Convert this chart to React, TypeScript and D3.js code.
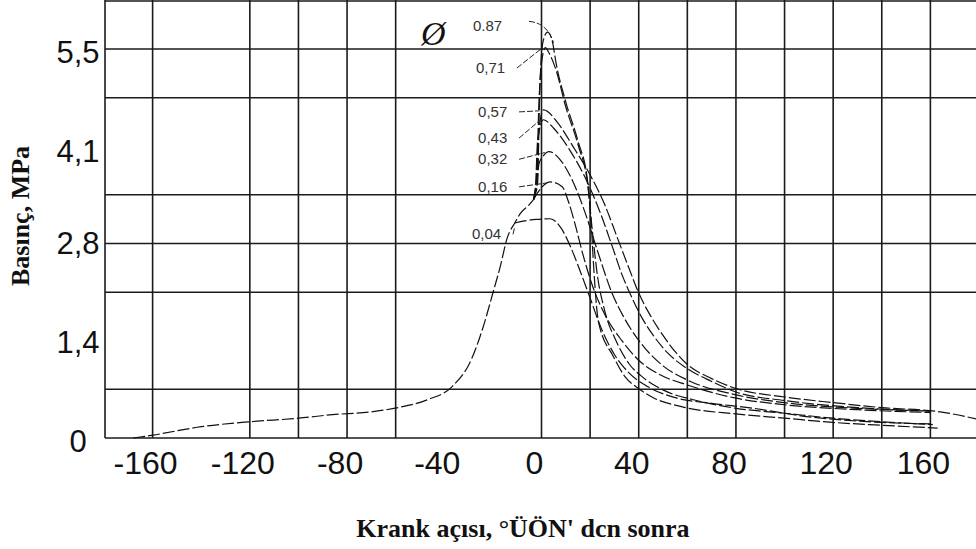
import React from 'react';
import * as d3 from 'd3';

const W = 976;
const H = 549;

// Axis ticks and grid positions (crank angle in degrees, pressure in MPa)
const xTicks = [-160, -120, -80, -40, 0, 40, 80, 120, 160];
const xGrid = [-160, -120, -100, -80, -60, 0, 20, 40, 60, 80, 100, 120, 140, 160];
const yTicks = [0, 1.4, 2.8, 4.1, 5.5];
const yTickLabels = ['0', '1,4', '2,8', '4,1', '5,5'];
const yGrid = [0.69, 2.06, 2.75, 3.44, 4.81, 5.5];

// Shared compression stroke (before the curves split)
const compression: [number, number][] = [
  [-168, 0], [-160, 0.04], [-140, 0.16], [-120, 0.23], [-100, 0.28], [-86, 0.33],
  [-70, 0.37], [-59, 0.43], [-47, 0.54], [-37, 0.72], [-29, 1.1], [-24, 1.57],
  [-20, 2.05], [-17, 2.42], [-14, 2.84], [-11, 3.04], [-8.6, 3.18], [-5, 3.3], [-3.3, 3.37],
];

// Pressure curves for each injection quantity
const p087: [number, number][] = [
  [-3.3, 3.37], [-1.6, 3.6], [-0.8, 4.8], [0.6, 5.6], [2.5, 5.74], [4.5, 5.6], [6, 5.3],
  [10, 4.75], [15, 4.2], [19, 3.62], [20.5, 3.0], [21.5, 2.4], [23.4, 1.65], [29.6, 1.15],
  [34.5, 0.86], [39.5, 0.71], [46, 0.57], [58, 0.44], [80, 0.34], [100, 0.28], [120, 0.22],
  [140, 0.18], [163, 0.14],
];
const p071: [number, number][] = [
  [-3.3, 3.37], [-2.0, 3.6], [-1.2, 4.6], [0.0, 5.3], [1.6, 5.52], [3, 5.45], [6, 5.2],
  [10, 4.68], [15, 4.15], [19, 3.58], [21, 2.9], [23, 2.3], [26, 1.8], [31, 1.35], [36, 1.05],
  [42, 0.85], [50, 0.68], [65, 0.52], [80, 0.42], [100, 0.35], [120, 0.28], [140, 0.23],
  [161, 0.19],
];
const p057: [number, number][] = [
  [-3.3, 3.37], [-2.2, 3.6], [-1.2, 4.3], [0.8, 4.64], [6.6, 4.46], [13, 4.12], [20, 3.72],
  [26, 3.3], [31, 2.85], [36, 2.4], [40, 2.05], [45, 1.72], [50, 1.45], [55, 1.22],
  [60, 1.04], [70, 0.84], [80, 0.7], [100, 0.58], [120, 0.5], [140, 0.43], [164, 0.37],
  [179, 0.27],
];
const p043: [number, number][] = [
  [-3.3, 3.37], [-2.4, 3.6], [-1.6, 4.2], [0.8, 4.5], [5, 4.38], [12, 4.05], [18, 3.68],
  [24, 3.2], [29, 2.72], [33, 2.32], [37, 2.0], [41, 1.72], [46, 1.45], [52, 1.2],
  [60, 0.98], [70, 0.8], [80, 0.65], [100, 0.53], [130, 0.43], [160, 0.38],
];
const p032: [number, number][] = [
  [-3.3, 3.37], [-2.0, 3.6], [-1.0, 3.88], [1, 4.0], [3, 4.05], [7.8, 3.93], [13, 3.62],
  [18, 3.18], [23, 2.65], [29, 2.05], [34, 1.7], [40, 1.38], [50, 1.02], [60, 0.82],
  [80, 0.61], [100, 0.5], [130, 0.42], [160, 0.38],
];
const p016: [number, number][] = [
  [-3.3, 3.37], [0, 3.54], [3.7, 3.62], [8.6, 3.55], [11, 3.35], [14, 3.0], [17, 2.6],
  [21, 2.15], [26, 1.75], [33, 1.38], [40, 1.1], [49, 0.89], [60, 0.75], [79, 0.57],
  [100, 0.47], [130, 0.4], [160, 0.36],
];
const p004: [number, number][] = [
  [-11, 3.04], [-7, 3.07], [-2, 3.09], [3.5, 3.1], [8, 2.97], [12, 2.7], [16, 2.35],
  [20, 1.98], [24, 1.6], [30, 1.18], [36, 0.92], [44, 0.72], [55, 0.57], [70, 0.49],
  [85, 0.43], [110, 0.3], [140, 0.22], [160, 0.2],
];

const seriesPoints = [p087, p071, p057, p043, p032, p016, p004];
const seriesLabels = ['0.87', '0,71', '0,57', '0,43', '0,32', '0,16', '0,04'];
const labelDeg = [-28.2, -27, -26.1, -26.1, -26.1, -26.1, -28.6];
const labelMPa = [5.75, 5.16, 4.54, 4.17, 3.87, 3.48, 2.81];

const xTitle = "Krank açısı, °ÜÖN' dcn sonra";
const yTitle = 'Basınç, MPa';

export default function App() {
  const x = d3.scaleLinear().domain([-180, 180]).range([104, 979]);
  const y = d3.scaleLinear().domain([0, 5.5]).range([438, 49]);
  const line = d3
    .line<[number, number]>()
    .x((d) => x(d[0]))
    .y((d) => y(d[1]))
    .curve(d3.curveMonotoneX);

  const left = x(-180) + 1;
  const bottom = y(0);
  const gridColor = '#1b1b1b';

  return (
    <svg
      width={W}
      height={H}
      viewBox={`0 0 ${W} ${H}`}
      style={{ position: 'absolute', left: 0, top: 0, background: '#fff' }}
    >
      <rect x={0} y={0} width={W} height={H} fill="#fff" />

      {/* grid */}
      <g stroke={gridColor} strokeWidth={1.6}>
        {xGrid.map((v) => (
          <line key={'vx' + v} x1={x(v)} x2={x(v)} y1={0} y2={bottom} />
        ))}
        {yGrid.map((v) => (
          <line key={'hy' + v} x1={left} x2={W} y1={y(v)} y2={y(v)} />
        ))}
        <line x1={left} x2={W} y1={1} y2={1} />
        <line x1={left} x2={left} y1={0} y2={bottom} />
        <line x1={left} x2={W} y1={bottom} y2={bottom} />
      </g>

      {/* tick labels */}
      <g fontFamily="'Liberation Sans', Arial, sans-serif" fill="#111">
        {xTicks.map((v) => (
          <text key={'xt' + v} x={x(v) - 7} y={474} fontSize={32} textAnchor="middle">
            {v}
          </text>
        ))}
        {yTicks.map((v, i) => (
          <text
            key={'yt' + v}
            x={78}
            y={y(v) + 14}
            fontSize={31}
            textAnchor="middle"
          >
            {yTickLabels[i]}
          </text>
        ))}
      </g>

      {/* pressure curves */}
      <g fill="none" stroke="#111" strokeWidth={1.2} strokeDasharray="12,3">
        <path d={line(compression) || ''} />
        {seriesPoints.map((pts, i) => (
          <path key={'s' + i} d={line(pts) || ''} />
        ))}
      </g>

      {/* curve labels with leaders */}
      <g fontFamily="'Liberation Sans', Arial, sans-serif" fontSize={15} fill="#333">
        {seriesPoints.map((pts, i) => {
          const lx = x(labelDeg[i]);
          const ly = y(labelMPa[i]);
          const peak = i === 6 ? pts[0] : pts.reduce((a, b) => (b[1] > a[1] ? b : a));
          const tx = x(peak[0]) - (i === 6 ? 0 : 4);
          const ty = y(peak[1]) + (i === 6 ? 4 : 1);
          const sx = lx + 41;
          const sy = ly - 5;
          const d =
            i === 0
              ? `M${lx + 56},${sy - 5} Q${tx + 4},${ty - 10} ${tx + 10},${ty + 10}`
              : `M${sx},${sy} L${tx},${ty}`;
          return (
            <g key={'lab' + i}>
              <text x={lx} y={ly}>
                {seriesLabels[i]}
              </text>
              <path d={d} fill="none" stroke="#222" strokeWidth={1} strokeDasharray="6,2" />
            </g>
          );
        })}
        <text
          x={x(-49.6)}
          y={y(5.56)}
          fontFamily="'Liberation Serif', 'Times New Roman', serif"
          fontSize={34}
          fill="#111"
          fontStyle="italic"
        >
          Ø
        </text>
      </g>

      {/* axis titles */}
      <text
        x={523}
        y={537}
        textAnchor="middle"
        fontFamily="'Liberation Serif', 'Times New Roman', serif"
        fontWeight="bold"
        fontSize={26}
        fill="#111"
      >
        {xTitle}
      </text>
      <text
        transform="translate(29,216) rotate(-90)"
        textAnchor="middle"
        fontFamily="'Liberation Serif', 'Times New Roman', serif"
        fontWeight="bold"
        fontSize={26}
        fill="#111"
      >
        {yTitle}
      </text>
    </svg>
  );
}
